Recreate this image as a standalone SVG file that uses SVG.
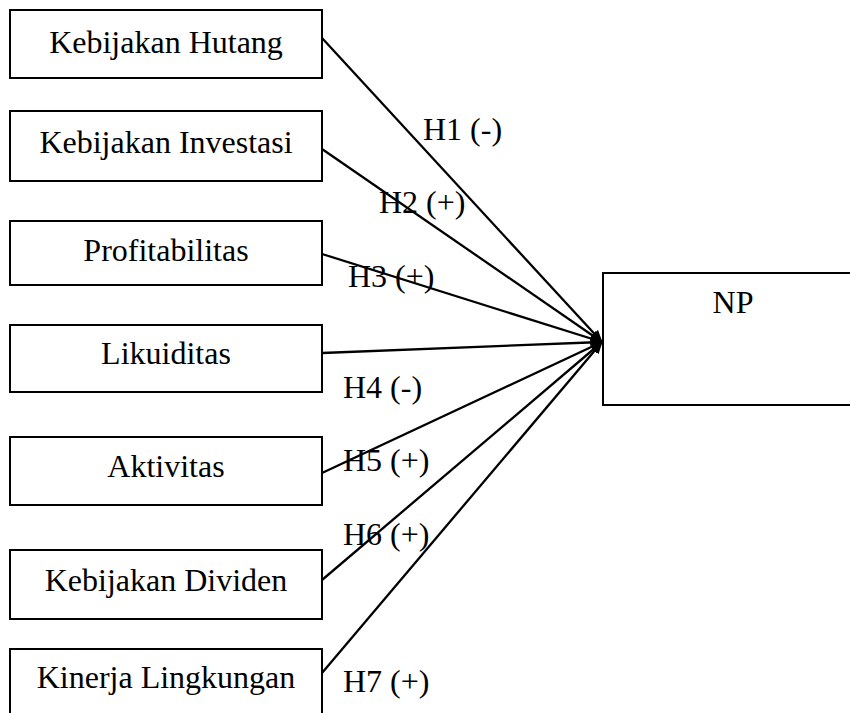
<svg xmlns="http://www.w3.org/2000/svg" width="850" height="713" viewBox="0 0 850 713">
<defs>
<style>
.box{fill:#fff;stroke:#000;stroke-width:2}
.t{font-family:"Liberation Serif","Times New Roman",serif;font-size:32px;fill:#000}
.c{text-anchor:middle}
.ln{stroke:#000;stroke-width:2.3;fill:none;marker-end:url(#ah)}
</style>
<marker id="ah" viewBox="0 0 12 10" refX="11" refY="5" markerWidth="5.5" markerHeight="4.6" orient="auto" markerUnits="strokeWidth">
<path d="M0,0 L12,5 L0,10 z" fill="#000"/>
</marker>
</defs>
<rect width="850" height="713" fill="#fff"/>
<g id="n1"><rect class="box" x="10" y="10" width="312" height="68"/><text class="t c" x="166" y="53">Kebijakan Hutang</text></g>
<g id="n2"><rect class="box" x="10" y="111" width="312" height="70"/><text class="t c" x="166" y="153">Kebijakan Investasi</text></g>
<g id="n3"><rect class="box" x="10" y="221" width="312" height="64"/><text class="t c" x="166" y="261">Profitabilitas</text></g>
<g id="n4"><rect class="box" x="10" y="325" width="312" height="67"/><text class="t c" x="166" y="364">Likuiditas</text></g>
<g id="n5"><rect class="box" x="10" y="437" width="312" height="68"/><text class="t c" x="166" y="477">Aktivitas</text></g>
<g id="n6"><rect class="box" x="10" y="550" width="312" height="69"/><text class="t c" x="166" y="591">Kebijakan Dividen</text></g>
<g id="n7"><rect class="box" x="10" y="649" width="312" height="80"/><text class="t c" x="166" y="688">Kinerja Lingkungan</text></g>
<g id="np"><rect class="box" x="603" y="273" width="260" height="132"/><text class="t c" x="733" y="313">NP</text></g>
<g id="connectors">
<line class="ln" x1="322" y1="38" x2="602" y2="342"/>
<line class="ln" x1="322" y1="149" x2="602" y2="342"/>
<line class="ln" x1="322" y1="254" x2="602" y2="342"/>
<line class="ln" x1="322" y1="353" x2="602" y2="342"/>
<line class="ln" x1="322" y1="473" x2="602" y2="342"/>
<line class="ln" x1="322" y1="580" x2="602" y2="342"/>
<line class="ln" x1="322" y1="673" x2="602" y2="342"/>
</g>
<g id="labels">
<text class="t" x="423" y="140">H1 (-)</text>
<text class="t" x="379" y="213">H2 (+)</text>
<text class="t" x="348" y="287">H3 (+)</text>
<text class="t" x="343" y="398">H4 (-)</text>
<text class="t" x="343" y="471">H5 (+)</text>
<text class="t" x="343" y="545">H6 (+)</text>
<text class="t" x="343" y="692">H7 (+)</text>
</g>
</svg>
